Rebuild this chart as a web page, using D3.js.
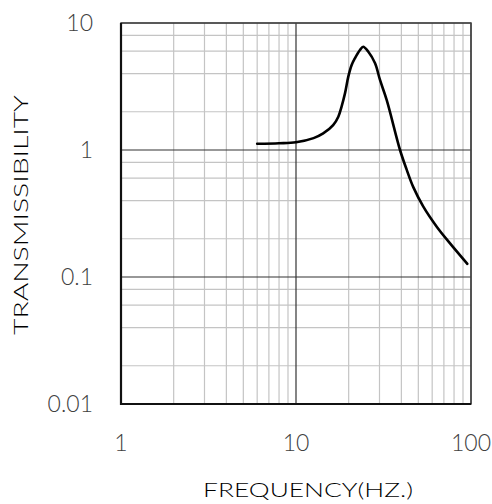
<!DOCTYPE html>
<html>
<head>
    <meta charset="utf-8">
    <title>Transmissibility</title>
    <script src="https://d3js.org/d3.v7.min.js"></script>
    <style>
        body{ margin: 0; background: #fff; }
        text{ font-family: Lato, "DejaVu Sans", sans-serif; font-weight: 300; }
    </style>
</head>
<body>
    <svg id="chart" width="492" height="504"></svg>
    <script>
        /*data*/
        var freq  = [6, 8, 10, 12.6, 14.3, 16.3, 17.45, 18.2, 19.05, 19.9, 20.8, 21.7, 23.2, 24.2, 25.9, 28.3, 30.2, 33, 39.3, 42.9, 46.8, 53.4, 63.7, 75.9, 95.3];
        var trans = [1.12, 1.13, 1.15, 1.24, 1.35, 1.57, 1.83, 2.19, 2.79, 3.78, 4.67, 5.27, 6.13, 6.5, 5.94, 4.82, 3.56, 2.47, 1.0, 0.70, 0.51, 0.358, 0.249, 0.184, 0.127];

        var xTicks = [1, 10, 100];
        var yTicks = [0.01, 0.1, 1, 10];
        var xMinor = [2, 3, 4, 5, 6, 7, 8, 9];
        var yMinor = [2, 4, 6, 8];

        /*"top" is taken by window.top, so use other names*/
        var pL = 121, pR = 471, pT = 23, pB = 404;
        var svg = d3.select("#chart");

        var x = d3.scaleLog().domain([1, 100]).range([pL, pR]);
        var y = d3.scaleLog().domain([0.01, 10]).range([pB, pT]);

        /*minor grid*/
        var xm = [], ym = [];
        [1, 10].forEach(function(d){
            xMinor.forEach(function(m){ xm.push(d*m); });
        });
        [0.01, 0.1, 1].forEach(function(d){
            yMinor.forEach(function(m){ ym.push(d*m); });
        });
        var grid = svg.append("g");
        grid.selectAll(".xm").data(xm).enter().append("line")
            .attr("x1", function(d){ return x(d); }).attr("x2", function(d){ return x(d); })
            .attr("y1", pT).attr("y2", pB)
            .attr("stroke", "#c4c4c4").attr("stroke-width", 1.2);
        grid.selectAll(".ym").data(ym).enter().append("line")
            .attr("y1", function(d){ return y(d); }).attr("y2", function(d){ return y(d); })
            .attr("x1", pL).attr("x2", pR)
            .attr("stroke", "#c4c4c4").attr("stroke-width", 1.2);

        /*major grid*/
        grid.selectAll(".xM").data(xTicks).enter().append("line")
            .attr("x1", function(d){ return x(d); }).attr("x2", function(d){ return x(d); })
            .attr("y1", pT).attr("y2", pB)
            .attr("stroke", "#333").attr("stroke-width", 1.2);
        grid.selectAll(".yM").data(yTicks).enter().append("line")
            .attr("y1", function(d){ return y(d); }).attr("y2", function(d){ return y(d); })
            .attr("x1", pL).attr("x2", pR)
            .attr("stroke", "#333").attr("stroke-width", 1.2);

        /*frame*/
        svg.append("rect").attr("x", pL).attr("y", pT)
            .attr("width", pR-pL).attr("height", pB-pT)
            .attr("fill", "none").attr("stroke", "#444").attr("stroke-width", 1.5);
        svg.append("path")
            .attr("d", "M" + pL + "," + pT + "V" + pB + "H" + pR)
            .attr("fill", "none").attr("stroke", "#111").attr("stroke-width", 2.2);

        /*curve*/
        var pts = freq.map(function(f, i){ return [x(f), y(trans[i])]; });
        svg.append("path")
            .attr("d", d3.line().curve(d3.curveCatmullRom.alpha(0.5))(pts))
            .attr("fill", "none").attr("stroke", "#000").attr("stroke-width", 2.6)
            .attr("stroke-linejoin", "round").attr("stroke-linecap", "round");

        /*tick labels*/
        svg.selectAll(".xl").data(xTicks).enter().append("text")
            .attr("x", function(d){ return x(d); }).attr("y", 451)
            .attr("text-anchor", "middle").attr("font-size", 23).attr("fill", "#404040")
            .text(function(d){ return d; });
        svg.selectAll(".yl").data(yTicks).enter().append("text")
            .attr("x", 93).attr("y", function(d){ return y(d) + 8; })
            .attr("text-anchor", "end").attr("font-size", 23).attr("fill", "#404040")
            .text(function(d){ return d; });

        /*axis titles*/
        svg.append("text").attr("x", 308).attr("y", 497)
            .attr("text-anchor", "middle").attr("font-size", 20).attr("fill", "#000")
            .attr("textLength", 210).attr("lengthAdjust", "spacingAndGlyphs")
            .text("FREQUENCY(HZ.)");
        svg.append("text")
            .attr("transform", "translate(28,215) rotate(-90)")
            .attr("text-anchor", "middle").attr("font-size", 20).attr("fill", "#000")
            .attr("textLength", 240).attr("lengthAdjust", "spacingAndGlyphs")
            .text("TRANSMISSIBILITY");
    </script>
</body>
</html>
